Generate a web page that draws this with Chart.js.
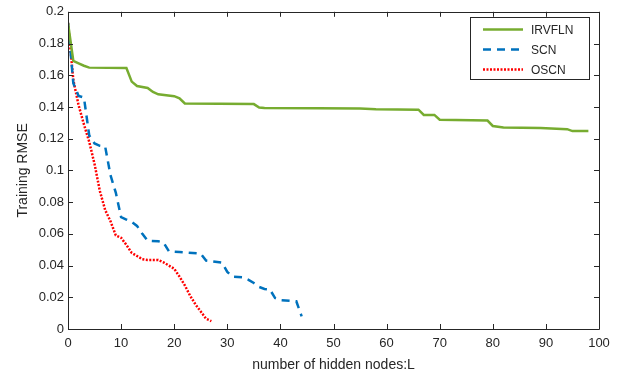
<!DOCTYPE html>
<html>
<head>
<meta charset="utf-8">
<script src="https://cdn.jsdelivr.net/npm/chart.js@4"></script>
<style>
  body { margin: 0; background: #fff; }
  #wrap { width: 633px; height: 376px; }
</style>
</head>
<body>
<div id="wrap"><canvas id="myLine"></canvas></div>
<script>
// values
var irvflnL    = [0,1,2,3,4,11,12,13,15,16,17,20,21,22,35,36,37,47,55,58,66,67,69,70,79,80,82,89,94,95,98];
var irvflnRMSE = [0.193,0.169,0.1675,0.166,0.1648,0.1645,0.156,0.1532,0.152,0.1495,0.148,0.1468,0.1455,0.1422,0.1418,0.1397,0.1393,0.1392,0.139,0.1385,0.1383,0.135,0.135,0.132,0.1314,0.128,0.127,0.1267,0.126,0.1248,0.1248];

var scnL    = [0,1,2,3,4,5,6,7,8,9,10,11,12,13,14,15,17,18,19,21,25,26,29,30,31,33,34,35,36,37,38,39,40,43,44];
var scnRMSE = [0.193,0.155,0.147,0.146,0.122,0.117,0.1155,0.115,0.097,0.086,0.0705,0.069,0.0675,0.065,0.06,0.0557,0.0553,0.0545,0.049,0.0486,0.0475,0.0432,0.0418,0.036,0.033,0.0325,0.031,0.029,0.0265,0.0252,0.025,0.0195,0.0182,0.0175,0.008];

var oscnL    = [0,1,2,3,4,5,6,7,8,9,10,11,12,13,14,15,16,17,18,19,20,21,22,23,24,25,26,27];
var oscnRMSE = [0.193,0.157,0.141,0.129,0.118,0.104,0.087,0.075,0.068,0.059,0.0575,0.053,0.048,0.046,0.044,0.0435,0.0435,0.0435,0.042,0.040,0.038,0.033,0.0275,0.021,0.0155,0.011,0.0065,0.005];

var seriesNames = ["IRVFLN", "SCN", "OSCN"];

function pts(xs, ys) {
  return xs.map(function (x, i) { return { x: x, y: ys[i] }; });
}

var axisColor = "#262626";
var fontName = "'Liberation Sans', Arial, sans-serif";

// MATLAB-like box, inward ticks, and legend inside the axes
var boxPlugin = {
  id: "box",
  afterDatasetsDraw: function (chart) {
    var c = chart.ctx, a = chart.chartArea;
    var xs = chart.scales.x, ys = chart.scales.y;
    c.save();
    c.strokeStyle = axisColor;
    c.lineWidth = 1;
    c.beginPath();
    c.rect(Math.round(a.left) + 0.5, Math.round(a.top) + 0.5, Math.round(a.right - a.left), Math.round(a.bottom - a.top));
    c.stroke();
    c.beginPath();
    xs.ticks.forEach(function (t) {
      var px = Math.round(xs.getPixelForValue(t.value)) + 0.5;
      c.moveTo(px, a.bottom); c.lineTo(px, a.bottom - 5);
      c.moveTo(px, a.top); c.lineTo(px, a.top + 5);
    });
    ys.ticks.forEach(function (t) {
      var py = Math.round(ys.getPixelForValue(t.value)) + 0.5;
      c.moveTo(a.left, py); c.lineTo(a.left + 5, py);
      c.moveTo(a.right, py); c.lineTo(a.right - 5, py);
    });
    c.stroke();

    // legend
    var lx = 470.5, ly = 17.5, lw = 119, lh = 62;
    c.fillStyle = "#fff";
    c.fillRect(lx, ly, lw, lh);
    c.strokeRect(lx, ly, lw, lh);
    c.font = "12px " + fontName;
    c.textBaseline = "middle";
    chart.data.datasets.forEach(function (ds, i) {
      var y = 29.5 + i * 20;
      c.strokeStyle = ds.borderColor;
      c.lineWidth = ds.borderWidth;
      c.setLineDash(ds.borderDash || []);
      c.beginPath();
      c.moveTo(483, y); c.lineTo(523, y);
      c.stroke();
      c.setLineDash([]);
      c.fillStyle = axisColor;
      c.fillText(ds.label, 531, y + 1);
    });
    c.restore();
  }
};

var ctx = document.getElementById("myLine");
var lineChart = new Chart(ctx, {
  type: "line",
  data: {
    datasets: [{
      label: seriesNames[0],
      data: pts(irvflnL, irvflnRMSE),
      borderColor: "#77AC30",
      borderWidth: 2.5,
      fill: false
    }, {
      label: seriesNames[1],
      data: pts(scnL, scnRMSE),
      borderColor: "#0072BD",
      borderWidth: 2.5,
      borderDash: [8, 6],
      fill: false
    }, {
      label: seriesNames[2],
      data: pts(oscnL, oscnRMSE),
      borderColor: "#FF0000",
      borderWidth: 2.5,
      borderDash: [2, 1.5],
      fill: false
    }]
  },
  options: {
    responsive: true,
    maintainAspectRatio: false,
    animation: false,
    layout: { padding: { left: 0, top: 7, right: 34, bottom: 0 } },
    elements: { point: { radius: 0 }, line: { tension: 0 } },
    plugins: { legend: { display: false }, tooltip: { enabled: false } },
    scales: {
      x: {
        type: "linear", min: 0, max: 100,
        ticks: { stepSize: 10, color: axisColor, font: { family: fontName, size: 13 }, padding: 7, maxRotation: 0 },
        grid: { drawOnChartArea: false, drawTicks: false },
        border: { display: false },
        title: { display: true, text: "number of hidden nodes:L", color: axisColor, font: { family: fontName, size: 14 }, padding: { top: 0, bottom: 2 } },
        afterFit: function (s) { s.height = 47; }
      },
      y: {
        type: "linear", min: 0, max: 0.2,
        ticks: {
          stepSize: 0.02, color: axisColor, font: { family: fontName, size: 13 }, padding: 4,
          callback: function (v) { return String(+v.toFixed(2)); }
        },
        grid: { drawOnChartArea: false, drawTicks: false },
        border: { display: false },
        title: { display: true, text: "Training RMSE", color: axisColor, font: { family: fontName, size: 14 }, padding: { top: 15, bottom: 0 } },
        afterFit: function (s) { s.width = 68; }
      }
    }
  },
  plugins: [boxPlugin]
});
</script>
</body>
</html>
